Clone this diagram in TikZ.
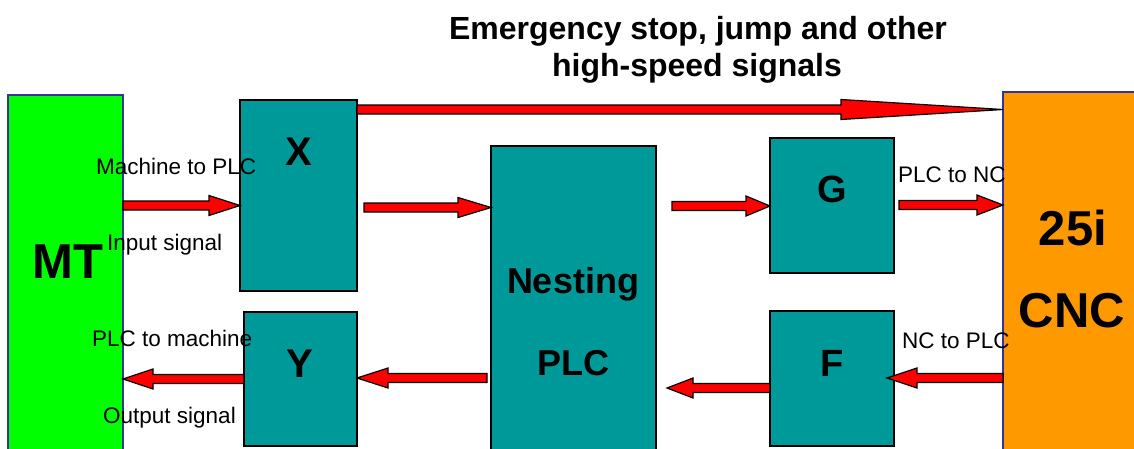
\documentclass[tikz,border=0pt]{standalone}
\usepackage{fontspec}
\setmainfont{Liberation Sans}
\usepackage{tikz}
\usetikzlibrary{calc}
\definecolor{petrol}{HTML}{009999}
\definecolor{maschgruen}{HTML}{00FF00}
\definecolor{cncorange}{HTML}{FF9900}
\definecolor{randblau}{HTML}{333399}

% Blockpfeil: #1 Spitzenlaenge, #2 Start, #3 Ziel, #4 Hoehe
\newcommand{\sigpfeil}[4]{%
  \draw[signal] let \p1=(#2), \p2=(#3), \p4=(0,#4), \n1={ifthenelse(\x2>\x1,1,-1)} in
    (\x1,{\y4+4.5pt}) -- ({\x2-(\n1)*#1},{\y4+4.5pt}) -- ({\x2-(\n1)*#1},{\y4+10pt})
    -- (\x2,\y4) -- ({\x2-(\n1)*#1},{\y4-10pt}) -- ({\x2-(\n1)*#1},{\y4-4.5pt})
    -- (\x1,{\y4-4.5pt}) -- cycle;}

\begin{document}
\begin{tikzpicture}[x=1pt, y=-1pt,
		block/.style={draw=black, fill=petrol, line width=1.6pt, inner sep=0pt, outer sep=0pt, anchor=north west},
		seite/.style={draw=randblau, line width=1.4pt, inner sep=0pt, outer sep=0pt, anchor=north west},
		signal/.style={draw=black, fill=red, line width=1.2pt, line join=miter},
		beschr/.style={anchor=base west, inner sep=0pt, font=\fontsize{22.5}{26}\selectfont},
		gross/.style={anchor=base, font=\fontsize{#1}{#1}\selectfont\bfseries}]
		%Bildbereich
		\useasboundingbox (0,0) rectangle (1134,448);
		% Bloecke
		\node[seite, fill=maschgruen, minimum width=115, minimum height=360] (mt) at (8,95) {};
		\node[seite, fill=cncorange, minimum width=140, minimum height=360] (cnc) at (1003,92) {};
		\node[block, minimum width=117, minimum height=191] (x) at (240,100) {};
		\node[block, minimum width=113, minimum height=134] (y) at (244,312) {};
		\node[block, minimum width=165, minimum height=310] (plc) at (491,146) {};
		\node[block, minimum width=124, minimum height=135] (g) at (770,138) {};
		\node[block, minimum width=124, minimum height=135] (f) at (770,311) {};
		% Signalpfeile
		\sigpfeil{162pt}{x.east}{cnc.west}{109.5}
		\sigpfeil{31pt}{mt.east}{x.west}{205.5}
		\sigpfeil{33pt}{$(x.east)+(7,0)$}{plc.west}{207.5}
		\sigpfeil{24pt}{$(plc.east)+(16,0)$}{g.west}{206}
		\sigpfeil{26pt}{$(g.east)+(5,0)$}{cnc.west}{205}
		\sigpfeil{30pt}{cnc.west}{$(f.east)+(-7,0)$}{378}
		\sigpfeil{26pt}{f.west}{$(plc.east)+(11,0)$}{388}
		\sigpfeil{31pt}{$(plc.west)+(-4,0)$}{y.east}{378}
		\sigpfeil{30pt}{y.west}{mt.east}{379}
		% Beschriftung
		\node[gross=32] (titel1) at (698,39) {Emergency stop, jump and other};
		\node[gross=32] (titel2) at (697,76) {high-speed signals};
		\node[gross=49] (mtlab) at (68,278) {MT};
		\node[gross=40] (xlab) at (299,165) {X};
		\node[gross=40] (ylab) at (300,377) {Y};
		\node[gross=36] (plclab1) at (573,293) {Nesting};
		\node[gross=36] (plclab2) at (573,375) {PLC};
		\node[gross=38] (glab) at (832,202) {G};
		\node[gross=38] (flab) at (832,376) {F};
		\node[gross=49] (cnclab1) at (1073,245) {25i};
		\node[gross=49] (cnclab2) at (1072,327) {CNC};
		\node[beschr] (ein1) at (96,174) {Machine to PLC};
		\node[beschr] (ein2) at (107,250) {Input signal};
		\node[beschr] (aus1) at (92,346) {PLC to machine};
		\node[beschr] (aus2) at (103,423) {Output signal};
		\node[beschr] (plcnc) at (898,182) {PLC to NC};
		\node[beschr] (ncplc) at (902,348) {NC to PLC};
	\end{tikzpicture}
\end{document}
